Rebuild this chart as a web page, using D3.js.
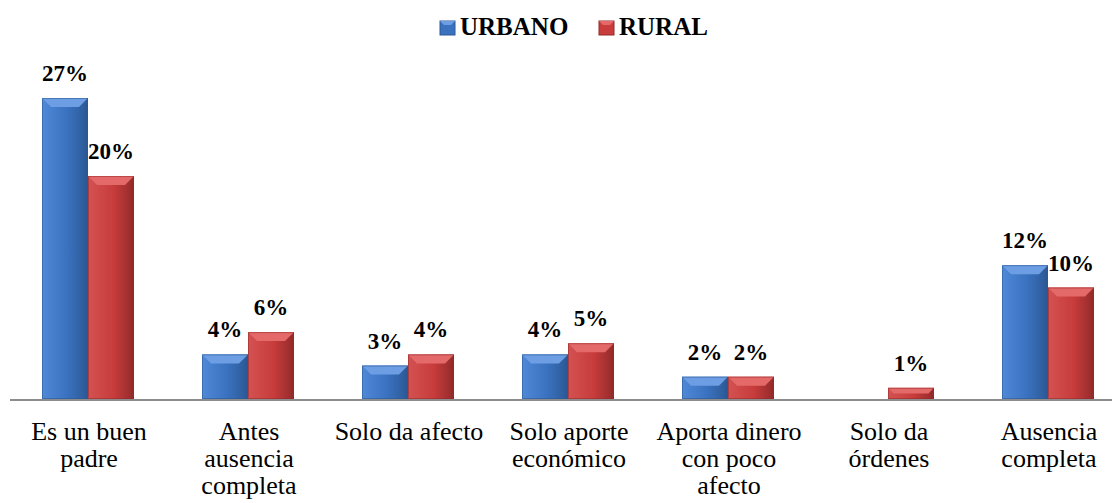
<!DOCTYPE html>
<html>
<head>
<meta charset="utf-8">
<script src="https://cdn.jsdelivr.net/npm/d3@7"></script>
<style>
  body { margin: 0; background: #fff; }
  svg text { font-family: "Liberation Serif", "DejaVu Serif", "Times New Roman", Times, serif; }
</style>
</head>
<body>
<svg width="1112" height="503"></svg>
<script>
var width = 1112;
var height = 503;
var serif = "'Liberation Serif', 'DejaVu Serif', 'Times New Roman', Times, serif";

// chart data
var categories = ["Es un buen\npadre", "Antes\nausencia\ncompleta", "Solo da afecto",
    "Solo aporte\neconómico", "Aporta dinero\ncon poco\nafecto", "Solo da\nórdenes", "Ausencia\ncompleta"];
var seriesNames = ["URBANO", "RURAL"];
var urbano = [27, 4, 3, 4, 2, 0, 12];
var rural = [20, 6, 4, 5, 2, 1, 10];

var palette = {
    "URBANO": { body: "#3a72c0", light: "#6d9ee3", side: "#4f88d6", dark: "#2c5894" },
    "RURAL": { body: "#c83c3c", light: "#e46a6a", side: "#d45252", dark: "#932a2a" }
};

var svg = d3.select('svg');

var x0 = d3.scaleBand().domain(categories).range([9, 1129]).padding(0);
var x1 = d3.scaleBand().domain(seriesNames).range([33, 125]).padding(0);
var y = d3.scaleLinear().domain([0, 27]).range([399, 98]);

// flatten into rows
var rows = [];
categories.forEach(function (c, i) {
    rows.push({ cat: c, series: "URBANO", value: urbano[i] });
    rows.push({ cat: c, series: "RURAL", value: rural[i] });
});

// gradients for bar bodies
var defs = svg.append("defs");
seriesNames.forEach(function (s) {
    var g = defs.append("linearGradient").attr("id", "grad-" + s)
        .attr("x1", 0).attr("x2", 1).attr("y1", 0).attr("y2", 0);
    g.append("stop").attr("offset", "0%").attr("stop-color", palette[s].side);
    g.append("stop").attr("offset", "55%").attr("stop-color", palette[s].body);
    g.append("stop").attr("offset", "100%").attr("stop-color", palette[s].dark);
});

// bars with bevel
var bars = svg.append("g").attr("id", "bars")
    .selectAll("g")
    .data(rows.filter(function (d) { return d.value > 0; }))
    .enter()
    .append("g");

bars.each(function (d) {
    var g = d3.select(this);
    var bx = x0(d.cat) + x1(d.series);
    var bw = x1.bandwidth();
    var by = y(d.value);
    var bh = y(0) - by;
    var b = Math.min(9, bh / 2);
    var s = Math.min(3, bh / 2);
    var p = palette[d.series];
    g.append("rect")
        .attr("x", bx).attr("y", by)
        .attr("width", bw).attr("height", bh)
        .attr("fill", "url(#grad-" + d.series + ")");
    // top bevel
    g.append("polygon")
        .attr("points", [[bx, by], [bx + bw, by], [bx + bw - b, by + b], [bx + b, by + b]].join(" "))
        .attr("fill", p.light);
    // right edge shade
    g.append("polygon")
        .attr("points", [[bx + bw, by], [bx + bw - s, by + b], [bx + bw - s, by + bh], [bx + bw, by + bh]].join(" "))
        .attr("fill", p.dark).attr("opacity", 0.6);
    g.append("rect")
        .attr("x", bx + 0.5).attr("y", by + 0.5)
        .attr("width", bw - 1).attr("height", bh - 1)
        .attr("fill", "none").attr("stroke", p.dark).attr("stroke-opacity", 0.55);
});

// axis line
svg.append("line")
    .attr("x1", 10).attr("x2", width)
    .attr("y1", y(0) + 1).attr("y2", y(0) + 1)
    .attr("stroke", "#8c8c8c").attr("stroke-width", 2);

// data labels
svg.append("g").attr("id", "labels")
    .selectAll("text")
    .data(rows.filter(function (d) { return d.value > 0; }))
    .enter()
    .append("text")
    .attr("x", function (d) { return x0(d.cat) + x1(d.series) + x1.bandwidth() / 2; })
    .attr("y", function (d) { return y(d.value) - 17; })
    .attr("text-anchor", "middle")
    .attr("font-family", serif)
    .attr("font-size", "23px")
    .attr("font-weight", "bold")
    .attr("fill", "#000")
    .text(function (d) { return d.value + "%"; });

// category labels
var catLabels = svg.append("g").attr("id", "x-axis-labels")
    .selectAll("text")
    .data(categories)
    .enter()
    .append("text")
    .attr("x", function (d) { return x0(d) + x0.bandwidth() / 2; })
    .attr("y", 440)
    .attr("text-anchor", "middle")
    .attr("font-family", serif)
    .attr("font-size", "26px")
    .attr("fill", "#000");
catLabels.each(function (d) {
    var t = d3.select(this);
    d.split("\n").forEach(function (line, i) {
        t.append("tspan")
            .attr("x", t.attr("x"))
            .attr("dy", i === 0 ? 0 : 27)
            .text(line);
    });
});

// legend
var legend = svg.append("g").attr("id", "legend");
var legendX = [440, 599];
seriesNames.forEach(function (s, i) {
    var lg = legend.append("g").attr("transform", "translate(" + legendX[i] + ",21)");
    lg.append("rect").attr("width", 15).attr("height", 14)
        .attr("fill", palette[s].body).attr("stroke", palette[s].dark).attr("stroke-width", 1);
    lg.append("polygon").attr("points", "0,0 15,0 11,4 4,4").attr("fill", palette[s].light);
    lg.append("text")
        .attr("x", 20).attr("y", 14)
        .attr("font-family", serif)
        .attr("font-size", "25px")
        .attr("font-weight", "bold")
        .attr("fill", "#000")
        .text(s);
});
</script>
</body>
</html>
